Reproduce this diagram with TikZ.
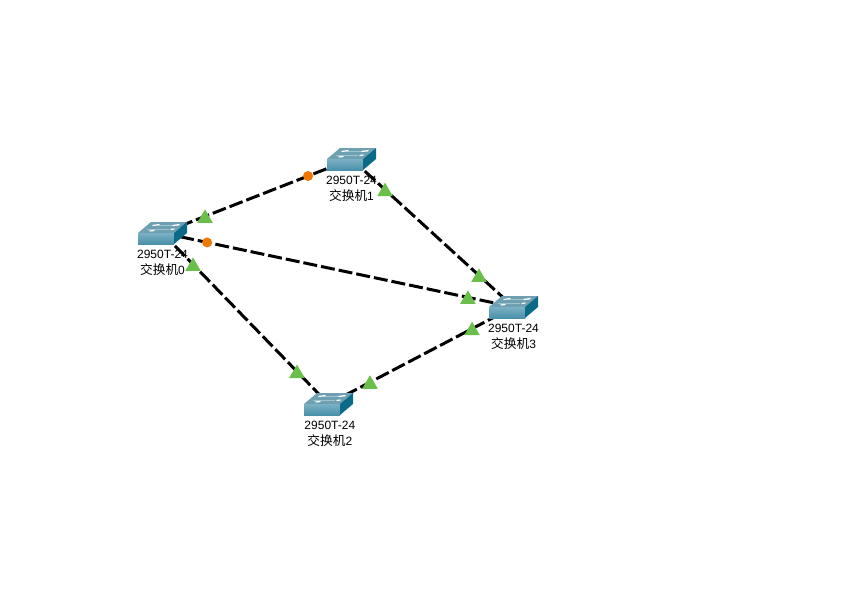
\documentclass[tikz,border=0pt]{standalone}
\usepackage{fontspec}
\setmainfont{Liberation Sans}
\newfontfamily\cjk[Scale=1.06]{Noto Sans CJK SC}
\usetikzlibrary{shapes.geometric,positioning,backgrounds}
\definecolor{swfront}{HTML}{5A9DB5}
\definecolor{swfrontlow}{HTML}{4A90AA}
\definecolor{swtop}{HTML}{6FA0B2}
\definecolor{swside}{HTML}{0A6A88}
\definecolor{upgreen}{HTML}{6ABF4B}
\definecolor{blockorange}{HTML}{F07800}
\tikzset{sw/.style={minimum width=36.75pt,minimum height=16.5pt,inner sep=0pt,
    path picture={
    \fill[swtop] (-24.5,0)--(-11.5,-11)--(24.5,-11)--(11.5,0)--cycle;
    \shade[top color=swfront!80!white,bottom color=swfrontlow] (-24.5,0) rectangle (11.5,11);
    \fill[swside] (11.5,0)--(24.5,-11)--(24.5,0)--(11.5,11)--cycle;
    \draw[swfront!60!white,line width=0.4pt] (-16,-4)--(6,-4) (-6,-8)--(16,-8);
    \draw[white,line width=0.9pt] (-10,-7.5)--(-3,-8.5) (10,-7.5)--(17,-8.5) (-13,-2)--(-8,-2.5) (8,-3.5)--(12,-4);
    }}}
\tikzset{lbl/.style={align=center,inner sep=0pt,font=\fontsize{9}{12.4}\selectfont}}
\tikzset{link/.style={line width=2.25pt,dash pattern=on 10.5pt off 3pt}}
\tikzset{up/.style={regular polygon,regular polygon sides=3,fill=upgreen,minimum size=13.5pt,inner sep=0pt,yshift=-1.5pt}}
\tikzset{down/.style={circle,fill=blockorange,minimum size=7.5pt,inner sep=0pt}}

\begin{document}
\begin{tikzpicture}[x=0.75pt,y=-0.75pt]
    \useasboundingbox (0,0) rectangle (863,589);

    \node[sw] (sw0)at (162.5,233) {};
    \node[sw] (sw1)at (351.5,159) {};
    \node[sw] (sw2)at (328.5,404) {};
    \node[sw] (sw3)at (513.5,307) {};

    \node[lbl,below=4pt of sw0] (lb0) {2950T-24\\{\cjk 交换机}0};
    \node[lbl,below=4pt of sw1] (lb1) {2950T-24\\{\cjk 交换机}1};
    \node[lbl,below=4pt of sw2,xshift=1pt] (lb2) {2950T-24\\{\cjk 交换机}2};
    \node[lbl,below=4pt of sw3] (lb3) {2950T-24\\{\cjk 交换机}3};

    \begin{scope}[on background layer]
    \draw [link] (sw0.center) to node[pos=.225,up]{} node[pos=.77,down]{} (sw1.center);
    \draw [link] (sw1.center) to node[pos=.207,up]{} node[pos=.787,up]{} (sw3.center);
    \draw [link] (sw0.center) to node[pos=.127,down]{} node[pos=.87,up]{} (sw3.center);
    \draw [link] (sw0.center) to node[pos=.184,up]{} node[pos=.81,up]{} (sw2.center);
    \draw [link] (sw2.center) to node[pos=.224,up]{} node[pos=.776,up]{} (sw3.center);
    \end{scope}
\end{tikzpicture}
\end{document}
